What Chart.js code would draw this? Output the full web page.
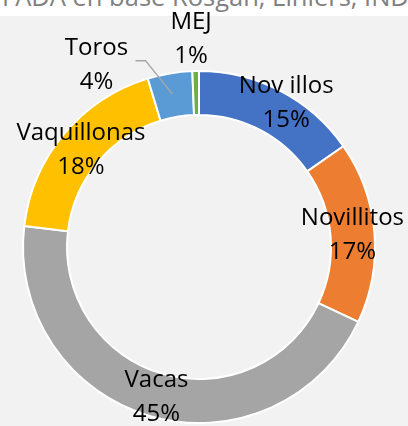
<!DOCTYPE html>
<html lang="es">
<head>
  <meta charset="UTF-8" />
  <title>Faena por categoría</title>
  <script src="https://cdn.jsdelivr.net/npm/chart.js"></script>
  <style>
    body {
      margin: 0;
      background: #f2f2f2;
      font-family: 'Open Sans', sans-serif;
    }
    #wrap { position: relative; width: 408px; height: 426px; overflow: hidden; }
    #source {
      position: absolute;
      top: 0; left: 0;
      width: 408px; height: 16px;
      background: #fff;
      overflow: hidden;
    }
    #source span {
      position: absolute;
      top: -16px;
      left: 2px;
      font-size: 25.5px;
      line-height: 24px;
      color: #808080;
      white-space: nowrap;
    }
    #chart { position: absolute; top: 0; left: 0; }
  </style>
</head>
<body>
  <div id="wrap">
    <div id="source"><span>FADA en base Rosgan, Liniers, INDEC</span></div>
    <canvas id="chart" width="408" height="426"></canvas>
  </div>

  <script>
    const categories = ['Nov illos', 'Novillitos', 'Vacas', 'Vaquillonas', 'Toros', 'MEJ'];
    const shares = [15.3, 16.7, 44.9, 18.4, 4.1, 0.6];
    const sliceColors = ['#4472c4', '#ed7d31', '#a5a5a5', '#ffc000', '#5b9bd5', '#70ad47'];

    // label nudges away from the ring centre (Excel "best fit" positions)
    const labelShift = [[16, -9], [0, 0], [0, 0], [0, 0], [-77, -32], [-5, -56]];
    const leaderFor = 4; // Toros gets a leader line

    const total = shares.reduce((a, b) => a + b, 0);

    const ringLabels = {
      id: 'ringLabels',
      afterDatasetsDraw(chart) {
        const ctx = chart.ctx;
        const meta = chart.getDatasetMeta(0);
        ctx.save();
        ctx.font = "24px 'Open Sans'";
        ctx.textAlign = 'center';
        ctx.textBaseline = 'alphabetic';
        meta.data.forEach((arc, i) => {
          const p = arc.getProps(['x', 'y', 'startAngle', 'endAngle', 'innerRadius', 'outerRadius'], true);
          const mid = (p.startAngle + p.endAngle) / 2;
          const r = (p.innerRadius + p.outerRadius) / 2;
          const ax = p.x + Math.cos(mid) * r;
          const ay = p.y + Math.sin(mid) * r;
          const cx = ax + labelShift[i][0];
          const cy = ay + labelShift[i][1];

          if (i === leaderFor) {
            ctx.strokeStyle = '#a6a6a6';
            ctx.lineWidth = 1.5;
            ctx.beginPath();
            ctx.moveTo(cx + 39, cy - 2.5);
            ctx.lineTo(cx + 49, cy - 2.5);
            ctx.lineTo(ax - 1, ay - 1);
            ctx.stroke();
          }

          ctx.fillStyle = '#000';
          ctx.fillText(categories[i], cx, cy - 8.5);
          ctx.fillText(Math.round(shares[i] / total * 100) + '%', cx, cy + 25.5);
        });
        ctx.restore();
      }
    };

    new Chart(document.getElementById('chart').getContext('2d'), {
      type: 'doughnut',
      data: {
        labels: categories,
        datasets: [{
          data: shares,
          backgroundColor: sliceColors,
          borderColor: '#ffffff',
          borderWidth: 2
        }]
      },
      options: {
        responsive: false,
        animation: false,
        cutout: '75%',
        layout: { padding: { left: 22, right: 32, top: 70, bottom: 2 } },
        plugins: {
          legend: { display: false },
          tooltip: { enabled: false }
        }
      },
      plugins: [ringLabels]
    });
  </script>
</body>
</html>
